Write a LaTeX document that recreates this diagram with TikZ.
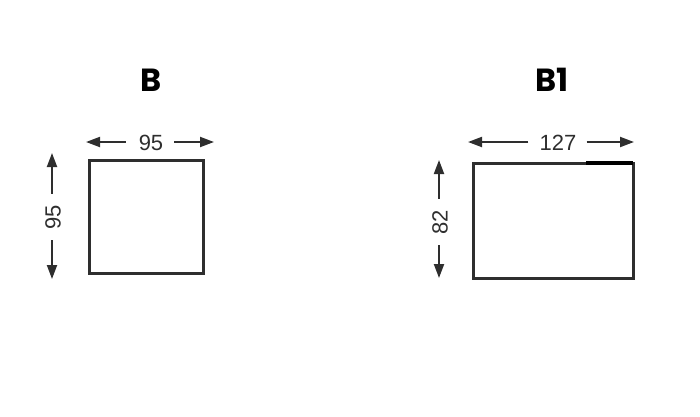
\documentclass[tikz,border=0pt]{standalone}
\usepackage{fontspec}
\setmainfont{Liberation Sans}
\newfontfamily\titlefont{Poppins}
\usetikzlibrary{arrows.meta}
\definecolor{ink}{HTML}{2E2E2E}
\tikzset{
  box/.style={draw=ink, line width=3pt, minimum width=#1, inner sep=0pt, outer sep=0pt},
  title/.style={font=\titlefont\bfseries\fontsize{32}{32}\selectfont, text=black, inner sep=0pt},
  dimtext/.style={font=\fontsize{22}{22}\selectfont, text=ink, inner sep=0pt},
  dimarrow/.style={draw=ink, line width=2pt, -{Triangle[length=14pt,width=10pt]}},
}
\begin{document}
\begin{tikzpicture}[x=1pt,y=-1pt]
\useasboundingbox (0,0) rectangle (700,416);
% Box B
\node[box=114pt, minimum height=113pt] (boxB) at (146,216.5) {};
\node[title] (tB) at (151,80) {B};
\node[dimtext] (wB) at (151,143) {95};
\coordinate (wBl) at (86,142);
\coordinate (wBr) at (214,142);
\draw[dimarrow] ([xshift=-13pt]wB.west |- wBl) -- (wBl);
\draw[dimarrow] ([xshift=11pt]wB.east |- wBr) -- (wBr);
\node[dimtext, rotate=90] (hB) at (53,217) {95};
\coordinate (hBt) at (52,153);
\coordinate (hBb) at (52,279);
\draw[dimarrow] ([yshift=11pt]hB.east -| hBt) -- (hBt);
\draw[dimarrow] ([yshift=-11pt]hB.west -| hBb) -- (hBb);
% Box B1
\node[box=160pt, minimum height=115pt] (boxB1) at (553,220.5) {};
\draw[black, line width=3.4pt] (586,163) -- (boxB1.north east);
\node[title] (tB1) at (552,80) {B1};
\node[dimtext] (wB1) at (558,143) {127};
\coordinate (wB1l) at (468,142);
\coordinate (wB1r) at (634,142);
\draw[dimarrow] ([xshift=-11pt]wB1.west |- wB1l) -- (wB1l);
\draw[dimarrow] ([xshift=10pt]wB1.east |- wB1r) -- (wB1r);
\node[dimtext, rotate=90] (hB1) at (440,222) {82};
\coordinate (hB1t) at (439,160);
\coordinate (hB1b) at (439,278);
\draw[dimarrow] ([yshift=11pt]hB1.east -| hB1t) -- (hB1t);
\draw[dimarrow] ([yshift=-11pt]hB1.west -| hB1b) -- (hB1b);
\end{tikzpicture}
\end{document}
